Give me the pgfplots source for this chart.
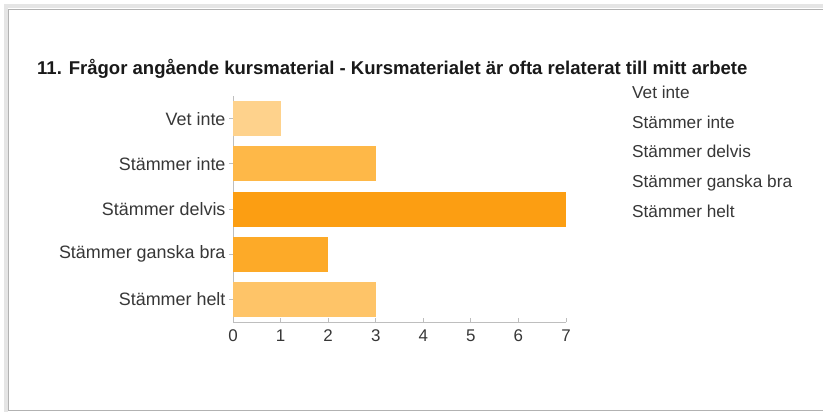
\documentclass[border=0pt]{standalone}
\usepackage{fontspec}
\setmainfont{Liberation Sans}
\usepackage{pgfplots}
\pgfplotsset{compat=1.18}

\definecolor{cVet}{RGB}{254,210,140}
\definecolor{cInte}{RGB}{254,184,72}
\definecolor{cDelvis}{RGB}{252,158,18}
\definecolor{cGanska}{RGB}{253,170,40}
\definecolor{cHelt}{RGB}{254,196,104}
\definecolor{txt}{RGB}{55,55,55}
\definecolor{axl}{RGB}{190,190,190}

\begin{document}
\begin{tikzpicture}[x=1bp,y=1bp]
\path[use as bounding box, fill=white] (0,0) rectangle (823,412);
% screenshot frame with soft shadow
\draw[black!10, line width=4bp] (6,0) -- (6,406) -- (850,406);
\draw[black!30, line width=0.8bp] (8,2) rectangle (850,403);

\node[anchor=base west, inner sep=0, text=black!90,
      font=\bfseries\fontsize{18.6}{20}\selectfont] at (37,338)
  {11. Frågor angående kursmaterial - Kursmaterialet är ofta relaterat till mitt arbete};

\begin{axis}[
  at={(233bp,90bp)}, anchor=south west,
  width=333bp, height=226bp, scale only axis,
  xmin=0, xmax=7,
  ymin=-0.5, ymax=4.5,
  y dir=reverse,
  axis x line*=bottom, axis y line*=left,
  axis line style={draw=axl, line width=0.9bp, -},
  xtick={0,...,7},
  ytick={0,...,4},
  yticklabels={Vet inte, Stämmer inte, Stämmer delvis, Stämmer ganska bra, Stämmer helt},
  tick align=outside,
  major tick length=4bp,
  tick style={draw=axl, line width=0.8bp},
  xtick style={yshift=4bp},
  yticklabel style={text=txt, font=\fontsize{18}{20}\selectfont},
  xticklabel style={text=txt, font=\fontsize{17}{19}\selectfont},
  /pgf/number format/assume math mode=true,
  xbar, bar width=35bp, bar shift=0pt,
  legend image code/.code={},
  legend style={draw=none, fill=none, at={(rel axis cs:1.198,1.048)}, anchor=north west,
    inner sep=0pt, row sep=13.2bp, column sep=0pt,
    font=\fontsize{17.3}{19}\selectfont, text=txt,
    nodes={inner sep=0pt, text height=13bp, text depth=3.5bp},
    cells={anchor=west}},
]
\addplot[fill=cVet, draw=none] coordinates {(1,0)};
\addplot[fill=cInte, draw=none] coordinates {(3,1)};
\addplot[fill=cDelvis, draw=none] coordinates {(7,2)};
\addplot[fill=cGanska, draw=none] coordinates {(2,3)};
\addplot[fill=cHelt, draw=none] coordinates {(3,4)};
\legend{Vet inte, Stämmer inte, Stämmer delvis, Stämmer ganska bra, Stämmer helt}
\end{axis}
\end{tikzpicture}
\end{document}
